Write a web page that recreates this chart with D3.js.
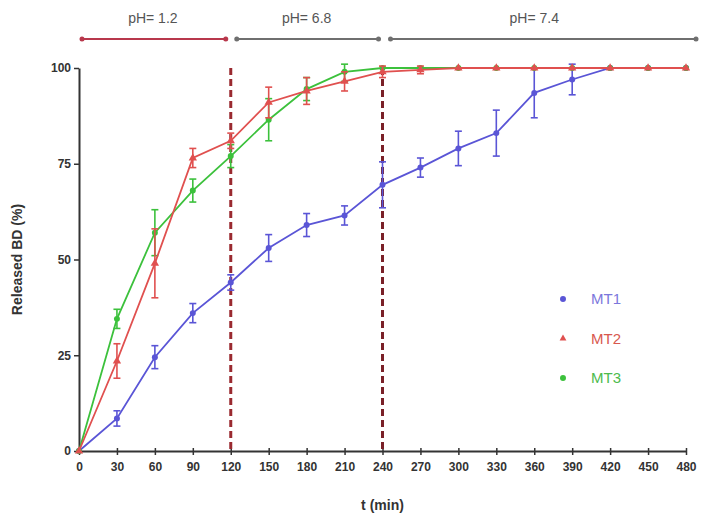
<html>
<head>
<script src="https://d3js.org/d3.v7.min.js"></script>
<style>
  body { margin: 0; background: #fff; }
  text { font-family: "Liberation Sans", Arial, sans-serif; }
</style>
</head>
<body>
<div id="chart"></div>
<script>
// time points (min)
const times = [0, 30, 60, 90, 120, 150, 180, 210, 240, 270, 300, 330, 360, 390, 420, 450, 480];

// released BD (%) and error (SD)
const mt1 = [0, 8.5, 24.5, 36, 44, 53, 59, 61.5, 69.5, 74, 79, 83, 93.5, 97, 100, 100, 100];
const mt1Err = [0, 2, 3, 2.5, 2, 3.5, 3, 2.5, 6, 2.5, 4.5, 6, 6.5, 4, 0, 0, 0];
const mt2 = [0, 23.5, 49, 76.5, 81, 91, 94, 96.5, 99, 99.5, 100, 100, 100, 100, 100, 100, 100];
const mt2Err = [0, 4.5, 9, 2.5, 2, 4, 3.5, 2.5, 1.5, 1, 0.5, 0.5, 0.5, 0.5, 0.5, 0.5, 0.5];
const mt3 = [0, 34.5, 57, 68, 77, 86.5, 94.5, 99, 100, 100, 100, 100, 100, 100, 100, 100, 100];
const mt3Err = [0, 2.5, 6, 3, 3, 5.5, 3, 2.5, 0.5, 0.5, 0.5, 0.5, 0.5, 0.5, 0.5, 0.5, 0.5];

const yTicks = [0, 25, 50, 75, 100];
const phBounds = [[0, 120], [120, 240], [240, 480]];
const phLabels = ["pH= 1.2", "pH= 6.8", "pH= 7.4"];
const stageLines = [120, 240];

const series = [
  { name: "MT1", values: mt1, err: mt1Err, color: "#5a55d6", text: "#7b77dc", shape: "circle" },
  { name: "MT2", values: mt2, err: mt2Err, color: "#e0504f", text: "#d8584e", shape: "triangle" },
  { name: "MT3", values: mt3, err: mt3Err, color: "#3cc13c", text: "#4cbb4c", shape: "circle" }
];

const W = 704, H = 520;
const margin = { top: 68, right: 18, bottom: 69, left: 79 };

const svg = d3.select("#chart").append("svg")
  .attr("width", W).attr("height", H);

const x = d3.scaleLinear().domain([0, 480]).range([margin.left, W - margin.right]);
const y = d3.scaleLinear().domain([0, 100]).range([H - margin.bottom, margin.top]);

// axes
const xAxis = svg.append("g")
  .attr("transform", "translate(0," + y(0) + ")")
  .call(d3.axisBottom(x).tickValues(times).tickSize(5).tickSizeOuter(0).tickPadding(6));
const yAxis = svg.append("g")
  .attr("transform", "translate(" + x(0) + ",0)")
  .call(d3.axisLeft(y).tickValues(yTicks).tickSize(5).tickSizeOuter(0).tickPadding(3));

[xAxis, yAxis].forEach(a => {
  a.select(".domain").attr("stroke", "#333").attr("stroke-width", 2);
  a.selectAll(".tick line").attr("stroke", "#333").attr("stroke-width", 1.5);
  a.selectAll(".tick text").attr("fill", "#333").style("font-size", "12px").style("font-weight", "bold");
});
// x ticks point down and up slightly like the reference
xAxis.selectAll(".tick line").attr("y1", -3).attr("y2", 4);

// axis titles
svg.append("text")
  .attr("x", (x(0) + x(480)) / 2).attr("y", 510)
  .attr("text-anchor", "middle")
  .style("font-size", "14px").style("font-weight", "bold").attr("fill", "#333")
  .text("t (min)");
svg.append("text")
  .attr("transform", "translate(22," + y(50) + ") rotate(-90)")
  .attr("text-anchor", "middle")
  .style("font-size", "14px").style("font-weight", "bold").attr("fill", "#333")
  .text("Released BD (%)");

// pH ranges at top
const phColors = ["#b8384c", "#6f6f6f", "#6f6f6f"];
const phOffsets = [[3, -5], [6, -4], [8, 10]];
phBounds.forEach((b, i) => {
  const x1 = x(b[0]) + phOffsets[i][0], x2 = x(b[1]) + phOffsets[i][1];
  const g = svg.append("g");
  g.append("line").attr("x1", x1).attr("x2", x2).attr("y1", 39).attr("y2", 39)
    .attr("stroke", phColors[i]).attr("stroke-width", 2);
  g.selectAll("circle").data([x1, x2]).enter().append("circle")
    .attr("cx", d => d).attr("cy", 39).attr("r", 2.5).attr("fill", phColors[i]);
  svg.append("text")
    .attr("x", (x(b[0]) + x(b[1])) / 2 + (i === 0 ? -2 : 0)).attr("y", 23)
    .attr("text-anchor", "middle").style("font-size", "14px").attr("fill", "#555")
    .text(phLabels[i]);
});

// dashed stage lines
svg.selectAll(".stage").data(stageLines).enter().append("line")
  .attr("x1", d => x(d)).attr("x2", d => x(d))
  .attr("y1", y(100)).attr("y2", y(0))
  .attr("stroke", (d, i) => i === 0 ? "#9a2a30" : "#7a2028")
  .attr("stroke-width", 3)
  .attr("stroke-dasharray", "7,4");

const line = d3.line().x((d, i) => x(times[i])).y(d => y(d));

// draw series: MT1 first, then MT3, then MT2 on top
[series[0], series[2], series[1]].forEach(s => {
  const g = svg.append("g");
  g.append("path").datum(s.values)
    .attr("d", line).attr("fill", "none")
    .attr("stroke", s.color).attr("stroke-width", 1.8);

  const pts = s.values.map((v, i) => ({ t: times[i], v: v, e: s.err[i] }));
  const eb = g.selectAll(".eb").data(pts.filter(p => p.e > 0.8)).enter().append("g");
  eb.append("line")
    .attr("x1", d => x(d.t)).attr("x2", d => x(d.t))
    .attr("y1", d => y(Math.min(d.v + d.e, 101))).attr("y2", d => y(d.v - d.e))
    .attr("stroke", s.color).attr("stroke-width", 1.6);
  eb.append("line")
    .attr("x1", d => x(d.t) - 3.5).attr("x2", d => x(d.t) + 3.5)
    .attr("y1", d => y(Math.min(d.v + d.e, 101))).attr("y2", d => y(Math.min(d.v + d.e, 101)))
    .attr("stroke", s.color).attr("stroke-width", 1.6);
  eb.append("line")
    .attr("x1", d => x(d.t) - 3.5).attr("x2", d => x(d.t) + 3.5)
    .attr("y1", d => y(d.v - d.e)).attr("y2", d => y(d.v - d.e))
    .attr("stroke", s.color).attr("stroke-width", 1.6);

  const sym = s.shape === "triangle" ? d3.symbolTriangle : d3.symbolCircle;
  g.selectAll(".pt").data(pts).enter().append("path")
    .attr("transform", d => "translate(" + x(d.t) + "," + y(d.v) + ")")
    .attr("d", d3.symbol().type(sym).size(s.shape === "triangle" ? 30 : 28))
    .attr("fill", s.color);
});

// legend
const legend = svg.append("g").attr("transform", "translate(563,299)");
series.forEach((s, i) => {
  const row = legend.append("g").attr("transform", "translate(0," + i * 39.5 + ")");
  row.append("path")
    .attr("d", d3.symbol().type(s.shape === "triangle" ? d3.symbolTriangle : d3.symbolCircle)
      .size(s.shape === "triangle" ? 20 : 28))
    .attr("fill", s.color);
  row.append("text").attr("x", 28).attr("y", 5)
    .style("font-size", "15px").attr("fill", s.text).text(s.name);
});
</script>
</body>
</html>
